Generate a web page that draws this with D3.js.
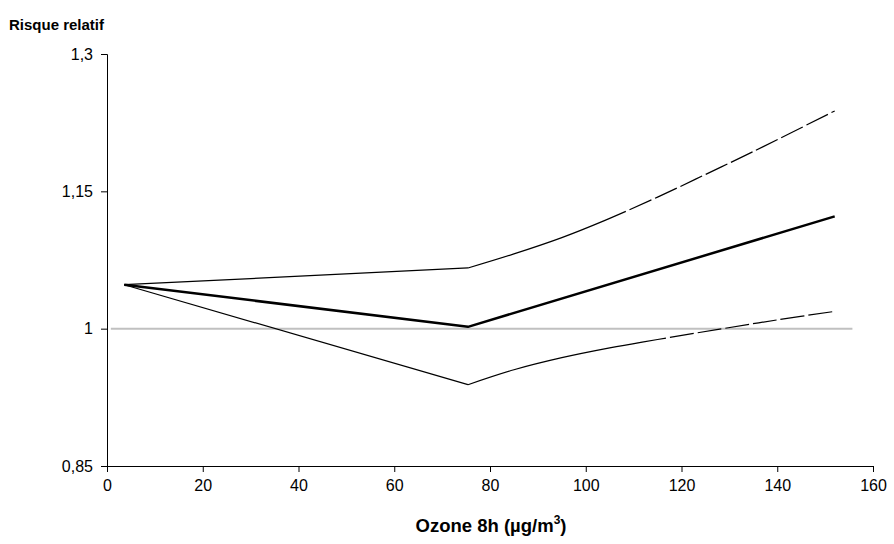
<!DOCTYPE html>
<html>
<head>
<meta charset="utf-8">
<script src="https://cdn.jsdelivr.net/npm/d3@7"></script>
<style>
  html, body { margin: 0; padding: 0; background: #fff; }
  svg { display: block; font-family: "Liberation Sans", Arial, sans-serif; }
</style>
</head>
<body>
<svg id="chart" width="894" height="544"></svg>
<script>
// ---- data ----
const xTicks = [0, 20, 40, 60, 80, 100, 120, 140, 160];
const yTicks = [0.85, 1.0, 1.15, 1.3];
const yTickLabels = ["0,85", "1", "1,15", "1,3"];

// central estimate (thick line)
const centralX = [3.6, 75.4, 152];
const centralY = [1.048, 1.002, 1.1227];

// upper confidence bound
const upperX = [3.6, 75.4, 85, 95, 105, 115, 125, 135, 152];
const upperY = [1.048, 1.0663, 1.0817, 1.0995, 1.1205, 1.1437, 1.1684, 1.1935, 1.2378];

// lower confidence bound
const lowerX = [3.6, 75.4, 85, 95, 105, 115, 128, 140, 152];
const lowerY = [1.048, 0.9388, 0.9551, 0.9683, 0.9790, 0.9882, 0.9995, 1.0096, 1.0189];

// reference line RR = 1
const refX = [0.8, 155.7];
const refY = [1, 1];

// ---- layout ----
const svg = d3.select("#chart");
const x = d3.scaleLinear().domain([0, 160]).range([107, 873]);
const y = d3.scaleLinear().domain([0.85, 1.3]).range([466, 54]);
const FONT = '"Liberation Sans", Arial, sans-serif';

const line = d3.line().x(d => x(d[0])).y(d => y(d[1]));
const curve = d3.line().x(d => x(d[0])).y(d => y(d[1])).curve(d3.curveCatmullRom.alpha(0.5));

// reference line
svg.append("path")
  .datum(d3.zip(refX, refY))
  .attr("d", line)
  .attr("fill", "none")
  .attr("stroke", "#c0c0c0")
  .attr("stroke-width", 2);

// axes
const xAxis = d3.axisBottom(x).tickValues(xTicks).tickSize(6).tickPadding(8).tickFormat(d3.format("d"));
const gx = svg.append("g").attr("transform", `translate(0,${y(0.85)})`).call(xAxis);
const yAxis = d3.axisLeft(y).tickValues(yTicks).tickSize(6).tickPadding(8)
  .tickFormat((d, i) => yTickLabels[i]);
const gy = svg.append("g").attr("transform", `translate(${x(0)},0)`).call(yAxis);
[gx, gy].forEach(g => {
  g.select(".domain").attr("stroke", "#000").attr("stroke-width", 1);
  g.selectAll(".tick line").attr("stroke", "#000");
  g.selectAll(".tick text").attr("fill", "#000")
    .style("font-size", "16px").style("font-family", FONT);
});

// confidence bounds: straight first segment, smooth curve after the knot,
// with the long-dash look of the original toward the right end
function drawBound(xs, ys, solidFrac) {
  const pts = d3.zip(xs, ys);
  svg.append("path")
    .datum(pts.slice(0, 2))
    .attr("d", line)
    .attr("fill", "none").attr("stroke", "#000").attr("stroke-width", 1.2)
    .attr("stroke-linejoin", "round");
  const p = svg.append("path")
    .datum(pts.slice(1))
    .attr("d", curve)
    .attr("fill", "none").attr("stroke", "#000").attr("stroke-width", 1.2)
    .attr("stroke-linejoin", "round");
  const L = p.node().getTotalLength();
  const solid = L * solidFrac;
  const dash = [solid, 0];
  let acc = solid;
  while (acc < L + 40) { dash.push(24, 4); acc += 28; }
  p.attr("stroke-dasharray", dash.join(","));
}
drawBound(upperX, upperY, 0.36);
drawBound(lowerX, lowerY, 0.48);

// central line
svg.append("path")
  .datum(d3.zip(centralX, centralY))
  .attr("d", line)
  .attr("fill", "none").attr("stroke", "#000").attr("stroke-width", 2.5)
  .attr("stroke-linejoin", "round");

// titles
svg.append("text")
  .attr("x", 9).attr("y", 30)
  .style("font-family", FONT)
  .style("font-size", "15px").style("font-weight", "bold")
  .text("Risque relatif");

const xt = svg.append("text")
  .attr("x", 491).attr("y", 532)
  .attr("text-anchor", "middle")
  .style("font-family", FONT)
  .style("font-size", "18.5px").style("font-weight", "bold");
xt.append("tspan").text("Ozone 8h (µg/m");
xt.append("tspan").attr("dy", -8).style("font-size", "12px").text("3");
xt.append("tspan").attr("dy", 8).text(")");
</script>
</body>
</html>
